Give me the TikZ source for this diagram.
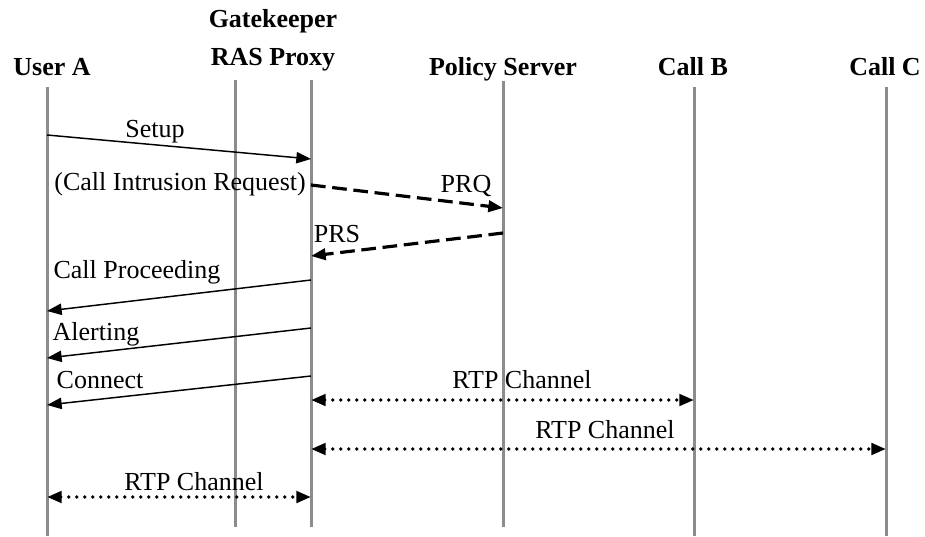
\documentclass[tikz,border=0pt]{standalone}
\usepackage{fontspec}
\setmainfont{Liberation Serif}
\usetikzlibrary{arrows.meta}

\begin{document}
\begin{tikzpicture}[x=0.75pt,y=-0.75pt,
    >={Triangle[length=11pt,width=8.5pt]},
    life/.style={line width=2.25pt,draw=black!45},
    head/.style={font=\fontsize{19.5}{23}\selectfont\bfseries,anchor=base,inner sep=0pt},
    lbl/.style={font=\fontsize{19.5}{23}\selectfont,anchor=base,inner sep=0pt},
    msg/.style={->,line width=1.1pt},
    req/.style={->,line width=2.4pt,dash pattern=on 11pt off 5pt},
    rtp/.style={<->,line width=2.7pt,line cap=round,dash pattern=on 0pt off 6pt}]
    \useasboundingbox (0,0) rectangle (925,536);

    % headers
    \node[head] (usera) at (52,75) {User A};
    \node[head] (gk) at (273,27) {Gatekeeper};
    \node[head] (ras) at (273,65) {RAS Proxy};
    \node[head] (policy) at (503,75) {Policy Server};
    \node[head] (callb) at (693,75) {Call B};
    \node[head] (callc) at (885,75) {Call C};

    % lifelines
    \coordinate (la) at (47,87);
    \coordinate (lg) at (235,80);
    \coordinate (lr) at (311,80);
    \coordinate (lp) at (503,81);
    \coordinate (lb) at (694,87);
    \coordinate (lc) at (886,87);
    \coordinate (bot) at (0,527);
    \coordinate (edge) at (0,536);
    \draw[life] (la) -- (la |- edge);
    \draw[life] (lg) -- (lg |- bot);
    \draw[life] (lr) -- (lr |- bot);
    \draw[life] (lp) -- (lp |- bot);
    \draw[life] (lb) -- (lb |- edge);
    \draw[life] (lc) -- (lc |- edge);

    % message rows
    \coordinate (s1) at (0,135);  \coordinate (e1) at (0,159);
    \coordinate (s2) at (0,185);  \coordinate (e2) at (0,208);
    \coordinate (s3) at (0,233);  \coordinate (e3) at (0,256);
    \coordinate (s4) at (0,280);  \coordinate (e4) at (0,311);
    \coordinate (s5) at (0,328);  \coordinate (e5) at (0,358);
    \coordinate (s6) at (0,376);  \coordinate (e6) at (0,405);
    \coordinate (r1) at (0,400);
    \coordinate (r2) at (0,449);
    \coordinate (r3) at (0,497);

    \draw[msg] (la |- s1) -- (lr |- e1);
    \node[lbl] (setup) at (155,137) {Setup};
    \draw[req] (lr |- s2) -- (lp |- e2);
    \node[lbl,anchor=base east] (cir) at (306,190) {(Call Intrusion Request)};
    \node[lbl] (prq) at (466,192) {PRQ};
    \draw[req] (lp |- s3) -- (lr |- e3);
    \node[lbl] (prs) at (337,242) {PRS};
    \draw[msg] (lr |- s4) -- (la |- e4);
    \node[lbl] (proc) at (137,278) {Call Proceeding};
    \draw[msg] (lr |- s5) -- (la |- e5);
    \node[lbl] (alert) at (96,340) {Alerting};
    \draw[msg] (lr |- s6) -- (la |- e6);
    \node[lbl] (conn) at (100,388) {Connect};

    \draw[rtp] (lr |- r1) -- (lb |- r1);
    \node[lbl] (rtpb) at (522,388) {RTP Channel};
    \draw[rtp] (lr |- r2) -- (lc |- r2);
    \node[lbl] (rtpc) at (605,438) {RTP Channel};
    \draw[rtp] (la |- r3) -- (lr |- r3);
    \node[lbl] (rtpa) at (194,490) {RTP Channel};
\end{tikzpicture}
\end{document}
